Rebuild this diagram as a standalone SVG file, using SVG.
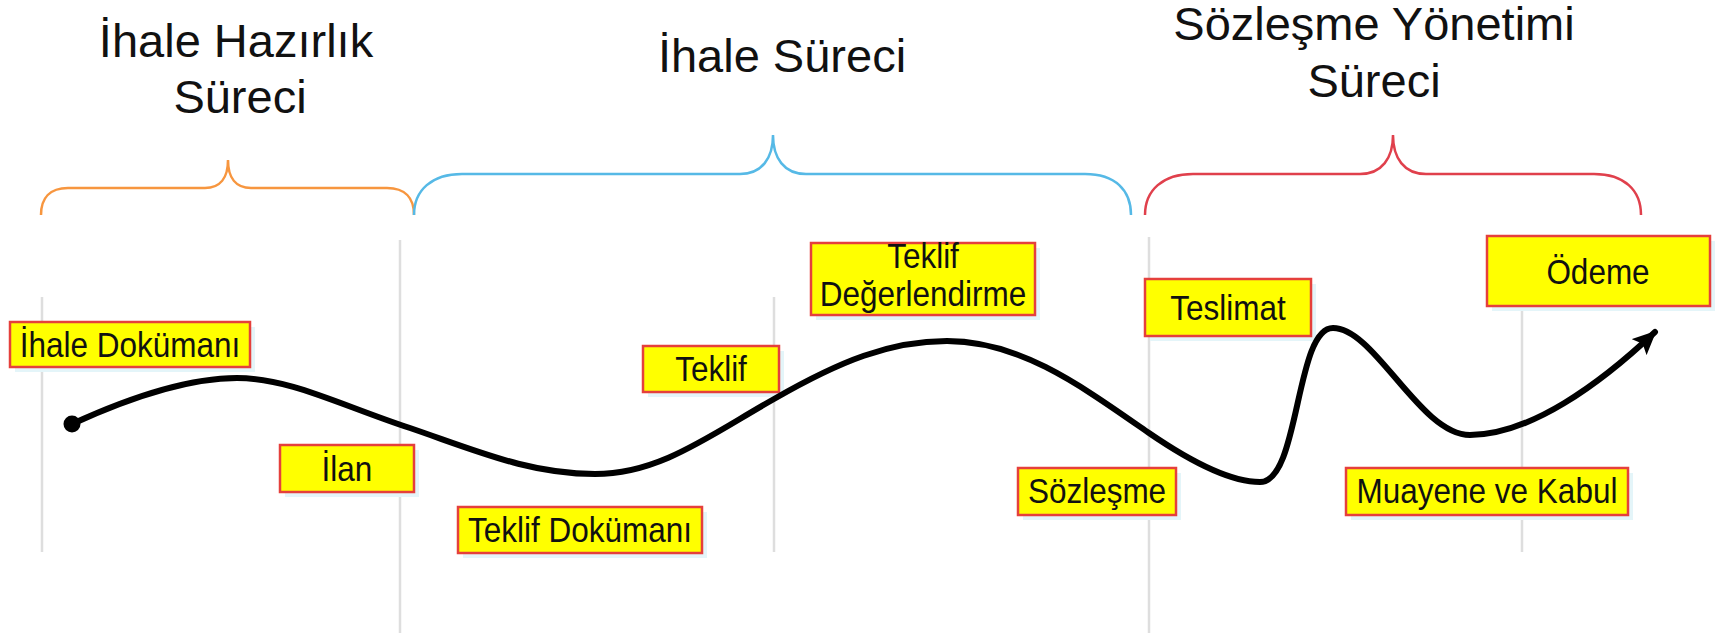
<svg xmlns="http://www.w3.org/2000/svg" width="1727" height="637" viewBox="0 0 1727 637">
<defs>
<style>
.title{font-family:"Liberation Sans",Arial,sans-serif;font-size:47px;fill:#111;text-anchor:middle}
.lbl{font-family:"Liberation Sans",Arial,sans-serif;font-size:35px;fill:#111;text-anchor:middle}
.box{fill:#FFFF00;stroke:#E5403C;stroke-width:2.5}
.shadow{fill:#E4F5F9}
.vline{stroke:#DEDEDE;stroke-width:2.5;fill:none}
.brace{fill:none;stroke-width:2.5}
</style>
<marker id="arrow" markerUnits="userSpaceOnUse" markerWidth="26" markerHeight="22" refX="22" refY="11" orient="auto">
<path d="M0,0 L24,11 L0,22 L5,11 z" fill="#000"/>
</marker>
</defs>
<rect width="1727" height="637" fill="#fff"/>

<g id="titles">
<g id="title-hazirlik"><text class="title" x="236" y="57">İhale Hazırlık</text><text class="title" x="240" y="113">Süreci</text></g>
<g id="title-ihale"><text class="title" x="782" y="72">İhale Süreci</text></g>
<g id="title-sozlesme"><text class="title" x="1374" y="40">Sözleşme Yönetimi</text><text class="title" x="1374" y="97">Süreci</text></g>
</g>

<g id="braces">
<path id="brace-orange" class="brace" stroke="#F7963F" d="M41,215 C41,198 50,188 68,188 L205,188 C220,188 228,178 228,160 C228,178 236,188 251,188 L387,188 C405,188 414,198 414,215"/>
<path id="brace-blue" class="brace" stroke="#56B9E6" d="M414,215 C414,190 432,174 462,174 L740,174 C762,174 773,158 773,135 C773,158 784,174 806,174 L1085,174 C1115,174 1131,190 1131,215"/>
<path id="brace-red" class="brace" stroke="#E0404C" d="M1145,215 C1145,190 1163,174 1193,174 L1360,174 C1382,174 1393,158 1393,135 C1393,158 1404,174 1426,174 L1594,174 C1624,174 1641,190 1641,215"/>
</g>

<g id="gridlines">
<line class="vline" x1="42" y1="297" x2="42" y2="552"/>
<line class="vline" x1="400" y1="240" x2="400" y2="633"/>
<line class="vline" x1="774" y1="297" x2="774" y2="552"/>
<line class="vline" x1="1149" y1="237" x2="1149" y2="633"/>
<line class="vline" x1="1522" y1="297" x2="1522" y2="552"/>
</g>

<g id="node-ihale-dokumani"><rect class="shadow" x="15" y="327" width="240" height="45"/><rect class="box" x="10" y="322" width="240" height="45"/><text class="lbl" transform="translate(130,357) scale(0.9,1)">İhale Dokümanı</text></g>
<g id="node-ilan"><rect class="shadow" x="285" y="450" width="134" height="47"/><rect class="box" x="280" y="445" width="134" height="47"/><text class="lbl" transform="translate(347,481) scale(0.9,1)">İlan</text></g>
<g id="node-teklif-dokumani"><rect class="shadow" x="463" y="512" width="244" height="46"/><rect class="box" x="458" y="507" width="244" height="46"/><text class="lbl" transform="translate(580,542) scale(0.9,1)">Teklif Dokümanı</text></g>
<g id="node-teklif"><rect class="shadow" x="648" y="351" width="136" height="46"/><rect class="box" x="643" y="346" width="136" height="46"/><text class="lbl" transform="translate(711,381) scale(0.9,1)">Teklif</text></g>
<g id="node-teklif-degerlendirme"><rect class="shadow" x="816" y="248" width="224" height="72"/><rect class="box" x="811" y="243" width="224" height="72"/><text class="lbl" transform="translate(923,268) scale(0.9,1)">Teklif</text><text class="lbl" transform="translate(923,306) scale(0.9,1)">Değerlendirme</text></g>
<g id="node-sozlesme"><rect class="shadow" x="1023" y="473" width="158" height="47"/><rect class="box" x="1018" y="468" width="158" height="47"/><text class="lbl" transform="translate(1097,503) scale(0.9,1)">Sözleşme</text></g>
<g id="node-teslimat"><rect class="shadow" x="1150" y="284" width="166" height="57"/><rect class="box" x="1145" y="279" width="166" height="57"/><text class="lbl" transform="translate(1228,320) scale(0.9,1)">Teslimat</text></g>
<g id="node-muayene"><rect class="shadow" x="1351" y="473" width="282" height="47"/><rect class="box" x="1346" y="468" width="282" height="47"/><text class="lbl" transform="translate(1487,503) scale(0.9,1)">Muayene ve Kabul</text></g>
<g id="node-odeme"><rect class="shadow" x="1492" y="241" width="223" height="70"/><rect class="box" x="1487" y="236" width="223" height="70"/><text class="lbl" transform="translate(1598,284) scale(0.9,1)">Ödeme</text></g>

<g id="connectors">
<circle cx="72" cy="424" r="8.5" fill="#000"/>
<path d="M72,424 C120,402 185,378 237,378 C290,378 340,405 410,428 C480,452 530,474 595,474 C660,474 710,435 774,399 C840,361 890,341 947,341 C1020,341 1080,385 1149,433 C1200,468 1235,482 1260,482 C1300,482 1295,328 1333,328 C1375,328 1420,435 1470,435 C1530,435 1600,384 1655,332" fill="none" stroke="#000" stroke-width="6" stroke-linecap="round" marker-end="url(#arrow)"/>
</g>
</svg>
